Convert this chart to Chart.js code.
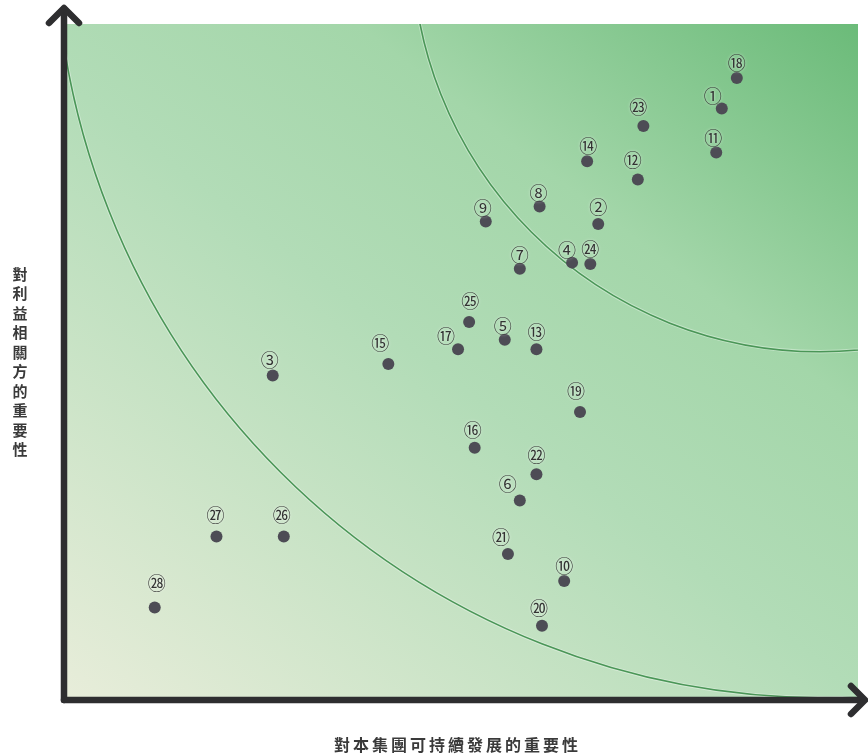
<!DOCTYPE html>
<html>
<head>
<meta charset="utf-8">
<title>重要性矩陣</title>
<script src="https://cdn.jsdelivr.net/npm/chart.js@4/dist/chart.umd.min.js"></script>
<style>
  html, body { margin: 0; padding: 0; background: #fff; }
  #wrap { width: 868px; height: 756px; }
</style>
</head>
<body>
<div id="wrap"><canvas id="matrix" width="868" height="756"></canvas></div>
<script>
/* ── Data ─────────────────────────────────────────────────── */
const issueIds = [1, 2, 3, 4, 5, 6, 7, 8, 9, 10, 11, 12, 13, 14, 15, 16, 17, 18, 19, 20, 21, 22, 23, 24, 25, 26, 27, 28];
const circledLabels = ['①','②','③','④','⑤','⑥','⑦','⑧','⑨','⑩','⑪','⑫','⑬','⑭','⑮','⑯','⑰','⑱','⑲','⑳','㉑','㉒','㉓','㉔','㉕','㉖','㉗','㉘'];
// importance to the group's sustainable development (x)
const groupImportance = [82.8, 67.2, 26.1, 63.9, 55.4, 57.3, 57.3, 59.8, 53.0, 62.9, 82.1, 72.2, 59.4, 65.8,
                         40.7, 51.6, 49.5, 84.7, 64.9, 60.1, 55.8, 59.4, 72.9, 66.2, 50.9, 27.5, 19.0, 11.2];
// importance to stakeholders (y)
const stakeholderImportance = [87.5, 70.4, 48.0, 64.7, 53.3, 29.5, 63.8, 73.0, 70.8, 17.6, 81.0, 77.0, 51.9, 79.7,
                               49.7, 37.3, 51.9, 92.0, 42.6, 11.0, 21.6, 33.4, 84.9, 64.5, 55.9, 24.2, 24.2, 13.7];
const xTitle = '對本集團可持續發展的重要性';
const yTitle = '對利益相關方的重要性';

/* ── Layout / style (not data) ───────────────────────────── */
// label nudges in px, one per issue
const labelNudge = [[-9,-12],[0,-17],[-3,-15],[-5,-12],[-2,-14],[-12,-16],[0,-14],[-1,-13],[-3,-13],[0,-15],
                    [-3,-14],[-5,-19],[0,-17],[1,-15],[-8,-21],[-2,-18],[-12,-13],[0,-15],[-4,-21],[-3,-17],
                    [-7,-17],[0,-19],[-5,-19],[0,-15],[1,-21],[-2,-21],[-1,-21],[2,-24]];
// zone boundary circles, centre + radius in axis units
const zoneArcs = [
  { cx: 95.9, cy: 114.3, r: 97.3 },
  { cx: 95.2, cy: 111.85, r: 51.5 }
];

const points = issueIds.map((id, i) => ({ x: groupImportance[i], y: stakeholderImportance[i] }));

/* ── Plugin: background, arcs, labels, axes ──────────────── */
const matrixDecor = {
  id: 'matrixDecor',
  beforeDatasetsDraw(chart) {
    const { ctx, chartArea: a, scales: { x, y } } = chart;
    ctx.save();
    const g = ctx.createLinearGradient(a.left, a.bottom, a.left + 621, a.bottom - 807);
    g.addColorStop(0, '#e8edda');
    g.addColorStop(0.48, '#b2dcb7');
    g.addColorStop(0.7, '#a3d6a9');
    g.addColorStop(1, '#6bbb79');
    ctx.fillStyle = g;
    ctx.fillRect(a.left, a.top, a.right - a.left, a.bottom - a.top);

    ctx.beginPath();
    ctx.rect(a.left, a.top, a.right - a.left, a.bottom - a.top);
    ctx.clip();
    const unit = x.getPixelForValue(1) - x.getPixelForValue(0);
    zoneArcs.forEach(arc => {
      ctx.beginPath();
      ctx.arc(x.getPixelForValue(arc.cx), y.getPixelForValue(arc.cy), arc.r * unit, 0, Math.PI * 2);
      ctx.strokeStyle = 'rgba(255,255,255,0.35)';
      ctx.lineWidth = 3.5;
      ctx.stroke();
      ctx.strokeStyle = '#4a9657';
      ctx.lineWidth = 1.6;
      ctx.stroke();
    });
    ctx.restore();
  },
  afterDatasetsDraw(chart) {
    const { ctx } = chart;
    const meta = chart.getDatasetMeta(0);
    ctx.save();
    ctx.font = '18px "Noto Sans CJK TC", "DejaVu Sans", sans-serif';
    ctx.textAlign = 'center';
    ctx.textBaseline = 'middle';
    ctx.fillStyle = '#333';
    ctx.shadowColor = 'rgba(255,255,255,0.85)';
    ctx.shadowBlur = 3;
    meta.data.forEach((pt, i) => {
      const [dx, dy] = labelNudge[i];
      ctx.fillText(circledLabels[i], pt.x + dx, pt.y + dy);
    });
    ctx.restore();
  },
  afterDraw(chart) {
    const { ctx, chartArea: a } = chart;
    ctx.save();
    ctx.strokeStyle = '#2e2e30';
    ctx.lineWidth = 6.5;
    ctx.lineCap = 'round';
    ctx.lineJoin = 'round';
    const ox = a.left - 2, oy = a.bottom;
    // y axis + arrow
    ctx.beginPath();
    ctx.moveTo(ox, oy);
    ctx.lineTo(ox, 9);
    ctx.stroke();
    ctx.beginPath();
    ctx.moveTo(ox - 15, 23);
    ctx.lineTo(ox, 8);
    ctx.lineTo(ox + 15, 23);
    ctx.stroke();
    // x axis + arrow
    ctx.beginPath();
    ctx.moveTo(ox, oy);
    ctx.lineTo(863, oy);
    ctx.stroke();
    ctx.beginPath();
    ctx.moveTo(851, oy - 14);
    ctx.lineTo(865, oy);
    ctx.lineTo(851, oy + 14);
    ctx.stroke();

    // axis titles
    ctx.fillStyle = '#3a3a3a';
    ctx.textAlign = 'center';
    ctx.textBaseline = 'middle';
    ctx.font = 'bold 16px "Noto Sans CJK TC", sans-serif';
    const xs = 19, xStart = (a.left + a.right) / 2 - 6 - (xTitle.length - 1) * xs / 2;
    [...xTitle].forEach((ch, i) => ctx.fillText(ch, xStart + i * xs, 745));
    ctx.font = 'bold 15px "Noto Sans CJK TC", sans-serif';
    const ys = 19.5, yStart = 274;
    [...yTitle].forEach((ch, i) => ctx.fillText(ch, 20, yStart + i * ys));
    ctx.restore();
  }
};

/* ── Chart ───────────────────────────────────────────────── */
new Chart(document.getElementById('matrix').getContext('2d'), {
  type: 'scatter',
  data: {
    datasets: [{
      data: points,
      pointRadius: 6,
      pointHoverRadius: 6,
      pointBackgroundColor: '#4d4c55',
      pointBorderWidth: 0
    }]
  },
  options: {
    responsive: false,
    animation: false,
    layout: { padding: { left: 66, right: 10, top: 24, bottom: 56 } },
    plugins: { legend: { display: false }, tooltip: { enabled: false } },
    scales: {
      x: { type: 'linear', min: 0, max: 100, display: false },
      y: { type: 'linear', min: 0, max: 100, display: false }
    }
  },
  plugins: [matrixDecor]
});
</script>
</body>
</html>
